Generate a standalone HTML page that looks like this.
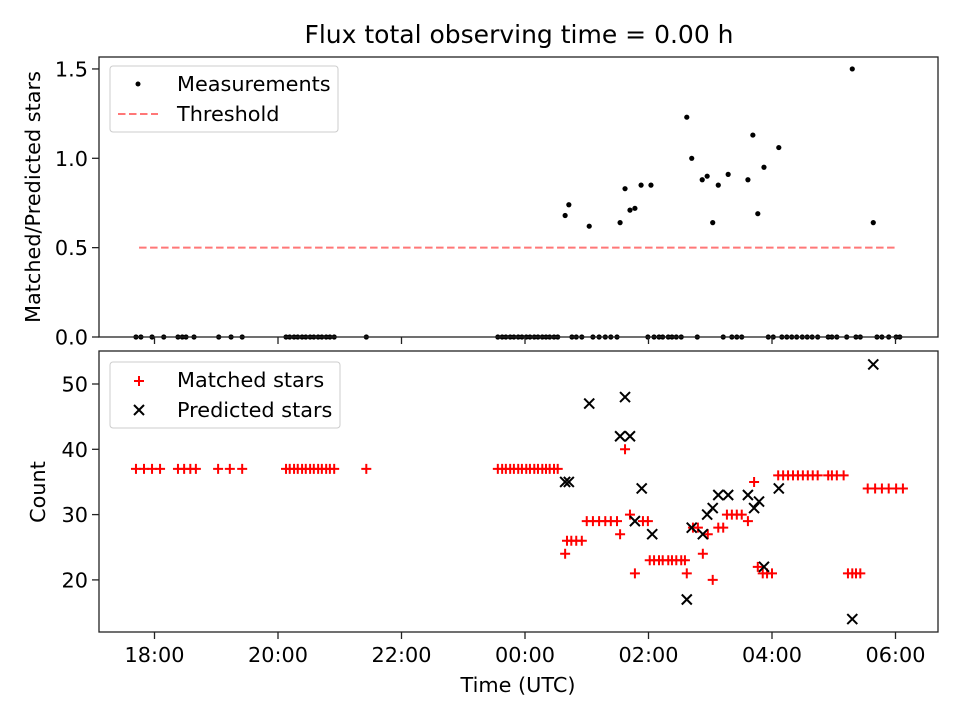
<!DOCTYPE html>
<html><head><meta charset="utf-8"><style>
body{margin:0;background:#fff}
svg text{font-family:"DejaVu Sans","Liberation Sans",sans-serif;fill:#000}
</style></head><body>
<svg id="c" width="960" height="720" xmlns="http://www.w3.org/2000/svg"></svg>
<script>
const xTickHours=[-6,-4,-2,0,2,4,6];
const xTickLabels=["18:00","20:00","22:00","00:00","02:00","04:00","06:00"];
const topTicks=[0,0.5,1.0,1.5];
const topTickLabels=["0.0","0.5","1.0","1.5"];
const botTicks=[20,30,40,50];
const threshold=0.5;
const thresholdRange=[-6.25,6.04];
const ratioT=[0.65,0.71,1.04,1.54,1.62,1.70,1.78,1.88,2.04,2.62,2.70,2.87,2.95,3.04,3.13,3.29,3.61,3.69,3.77,3.87,4.11,5.30,5.64];
const ratioV=[0.68,0.74,0.62,0.64,0.83,0.71,0.72,0.85,0.85,1.23,1.0,0.88,0.9,0.64,0.85,0.91,0.88,1.13,0.69,0.95,1.06,1.5,0.64];
const zeroT=[-6.30,-6.22,-6.04,-5.85,-5.62,-5.55,-5.49,-5.36,-4.96,-4.76,-4.58,-3.87,-3.81,-3.74,-3.68,-3.61,-3.55,-3.48,-3.42,-3.35,-3.29,-3.22,-3.16,-3.09,-2.57,
-0.44,-0.37,-0.31,-0.24,-0.18,-0.11,-0.05,0.02,0.08,0.15,0.21,0.28,0.34,0.40,0.47,0.53,0.76,0.83,0.92,1.10,1.20,1.30,1.39,1.49,1.99,2.09,2.17,2.23,2.32,2.38,2.45,2.53,2.79,3.21,3.35,3.43,3.51,3.94,4.02,4.16,4.24,4.32,4.40,4.49,4.57,4.65,4.74,4.91,4.97,5.05,5.21,5.36,5.43,5.70,5.78,5.89,6.01,6.07];
const zeroV=[0,0,0,0,0,0,0,0,0,0, 0,0,0,0,0,0,0,0,0,0, 0,0,0,0,0,
0,0,0,0,0,0,0,0,0,0, 0,0,0,0,0,0,0,0,0,0, 0,0,0,0,0,0,0,0,0,0, 0,0,0,0,0,0,0,0,0,0, 0,0,0,0,0,0,0,0,0,0, 0,0,0,0,0,0,0,0,0,0];
const matchedT=[-6.30,-6.17,-6.04,-5.91,-5.62,-5.52,-5.42,-5.33,-4.97,-4.78,-4.58,
-3.87,-3.81,-3.74,-3.68,-3.61,-3.55,-3.48,-3.42,-3.35,-3.29,-3.22,-3.16,-3.09,-2.57,
-0.44,-0.37,-0.31,-0.24,-0.18,-0.11,-0.05,0.02,0.08,0.15,0.21,0.28,0.34,0.40,0.47,0.53,
0.65,0.68,0.75,0.83,0.92,1.00,1.10,1.20,1.30,1.39,1.49,1.54,1.62,1.70,1.78,1.91,1.99,
2.02,2.09,2.17,2.23,2.32,2.38,2.45,2.53,2.59,2.62,2.72,2.80,2.88,2.96,3.04,3.13,3.21,
3.27,3.35,3.43,3.51,3.61,3.71,3.77,3.85,3.92,4.00,
4.10,4.18,4.26,4.34,4.42,4.50,4.58,4.66,4.74,4.91,4.97,5.05,5.16,5.23,5.30,5.36,5.43,
5.55,5.67,5.78,5.89,6.01,6.12];
const matchedV=[37,37,37,37,37,37,37,37,37,37,37,
37,37,37,37,37,37,37,37,37,37,37,37,37,37,
37,37,37,37,37,37,37,37,37,37,37,37,37,37,37,37,
24,26,26,26,26,29,29,29,29,29,29,27,40,30,21,29,29,
23,23,23,23,23,23,23,23,23,21,28,28,24,27,20,28,28,
30,30,30,30,29,35,22,21,21,21,
36,36,36,36,36,36,36,36,36,36,36,36,36,21,21,21,21,
34,34,34,34,34,34];
const predT=[0.65,0.71,1.04,1.54,1.62,1.70,1.78,1.89,2.06,2.62,2.70,2.88,2.95,3.04,3.13,3.29,3.61,3.71,3.79,3.87,4.11,5.30,5.64];
const predV=[35,35,47,42,48,42,29,34,27,17,28,27,30,31,33,33,33,31,32,22,34,14,53];

const NS="http://www.w3.org/2000/svg";
const svg=document.getElementById('c');
function mk(tag,attrs,parent){const e=document.createElementNS(NS,tag);for(const k in attrs)e.setAttribute(k,attrs[k]);(parent||svg).appendChild(e);return e;}
const X=h=>525+h*61.75;
const YT=v=>337-v*178.7;
const YB=v=>384-(v-50)*6.53;
const L=99,R=938;
const FS=20.8;

let t=mk('text',{x:519,y:43,'font-size':25,'text-anchor':'middle'});t.textContent='Flux total observing time = 0.00 h';



const gT=mk('g',{});


const thr=mk('line',{x1:X(thresholdRange[0]),x2:X(thresholdRange[1]),y1:YT(threshold),y2:YT(threshold),stroke:'#f77','stroke-width':2,'stroke-dasharray':'7.5,3.5'},gT);


function dot(h,v){const c=mk('circle',{cx:X(h),cy:YT(v),r:2.6,fill:'#000'},gT);

}
ratioT.forEach((h,i)=>dot(h,ratioV[i]));
zeroT.forEach((h,i)=>dot(h,zeroV[i]));

const gB=mk('g',{});


matchedT.forEach((h,i)=>{const x=X(h),y=YB(matchedV[i]);const p=mk('path',{d:`M${x-5},${y}H${x+5}M${x},${y-5}V${y+5}`,stroke:'red','stroke-width':2},gB);

});
predT.forEach((h,i)=>{const x=X(h),y=YB(predV[i]);const p=mk('path',{d:`M${x-5},${y-5}L${x+5},${y+5}M${x-5},${y+5}L${x+5},${y-5}`,stroke:'#000','stroke-width':2},gB);

});

const f1=mk('rect',{x:L,y:57,width:R-L,height:280,fill:'none',stroke:'#222','stroke-width':1.3});


const f2=mk('rect',{x:L,y:351,width:R-L,height:281,fill:'none',stroke:'#222','stroke-width':1.3});



xTickHours.forEach((h,i)=>{const x=X(h);
mk('line',{x1:x,x2:x,y1:337,y2:344,stroke:'#222','stroke-width':1.3});
mk('line',{x1:x,x2:x,y1:632,y2:639,stroke:'#222','stroke-width':1.3});
const tx=mk('text',{x:x,y:662,'font-size':FS,'text-anchor':'middle'});tx.textContent=xTickLabels[i];

});
topTicks.forEach((v,i)=>{const y=YT(v);mk('line',{x1:L-7,x2:L,y1:y,y2:y,stroke:'#222','stroke-width':1.3});
const tx=mk('text',{x:L-11,y:y+7.5,'font-size':FS,'text-anchor':'end'});tx.textContent=topTickLabels[i];

});
botTicks.forEach(v=>{const y=YB(v);mk('line',{x1:L-7,x2:L,y1:y,y2:y,stroke:'#222','stroke-width':1.3});
const tx=mk('text',{x:L-11,y:y+7.5,'font-size':FS,'text-anchor':'end'});tx.textContent=String(v);

});

t=mk('text',{x:518,y:692,'font-size':FS,'text-anchor':'middle'});t.textContent='Time (UTC)';


t=mk('text',{x:0,y:0,'font-size':FS,'text-anchor':'middle',transform:'translate(40,197) rotate(-90)'});t.textContent='Matched/Predicted stars';


t=mk('text',{x:0,y:0,'font-size':FS,'text-anchor':'middle',transform:'translate(45,492) rotate(-90)'});t.textContent='Count';



const lg1=mk('g',{});


mk('rect',{x:110,y:66,width:228,height:66,rx:3,fill:'#fff','fill-opacity':0.8,stroke:'#ccc'},lg1);
mk('circle',{cx:138,cy:84,r:2.5,fill:'#000'},lg1);
t=mk('text',{x:177,y:91,'font-size':FS},lg1);t.textContent='Measurements';


mk('line',{x1:118,x2:158,y1:114,y2:114,stroke:'#f77','stroke-width':2,'stroke-dasharray':'7.5,3.5'},lg1);
t=mk('text',{x:177,y:121,'font-size':FS},lg1);t.textContent='Threshold';



const lg2=mk('g',{});


mk('rect',{x:110,y:362,width:230,height:66,rx:3,fill:'#fff','fill-opacity':0.8,stroke:'#ccc'},lg2);
mk('path',{d:'M134,381H144M139,376V386',stroke:'red','stroke-width':2},lg2);
t=mk('text',{x:177,y:387,'font-size':FS},lg2);t.textContent='Matched stars';


mk('path',{d:'M134,405L144,415M134,415L144,405',stroke:'#000','stroke-width':2},lg2);
t=mk('text',{x:177,y:417,'font-size':FS},lg2);t.textContent='Predicted stars';


</script>
</body></html>
